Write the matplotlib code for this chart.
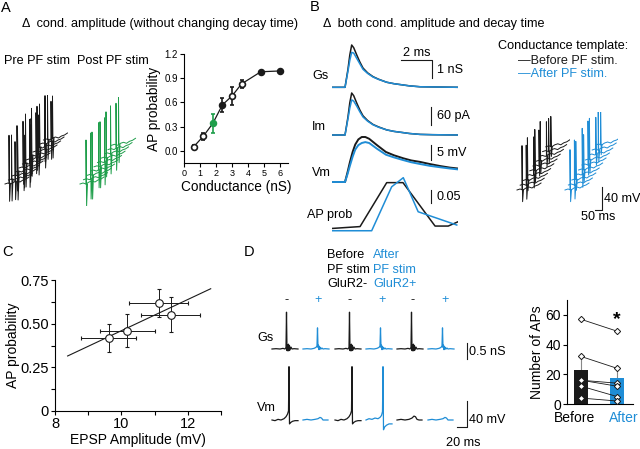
import numpy as np
import matplotlib
matplotlib.use('Agg')
import matplotlib.pyplot as plt

plt.rcParams['font.family'] = ['Liberation Sans', 'DejaVu Sans']

BLUE = '#1f8dd6'
GREEN = '#1e9e4a'
BLACK = '#1a1a1a'
FS = 9.1

#------------------------------------------------------------------------------
# A: AP probability vs conductance

a_cond = [0.6, 1.2, 1.8, 2.4, 3.0, 3.6, 4.8, 6.0]
a_prob = [0.05, 0.18, 0.34, 0.57, 0.68, 0.83, 0.98, 0.99]
a_err  = [0.02, 0.04, 0.12, 0.09, 0.11, 0.05, 0.0, 0.0]
a_kind = ['open', 'open', 'green', 'filled', 'open', 'open', 'filled', 'filled']

# waterfall stacks (px units): spike position along trace, spike up / down size
stack_base_t = [0, 3, 6, 9, 12, 15, 18, 21, 24]
stack_base_v = [0, 1, 0, 2, 3, 2, 4, 5, 7]

pre_spk_t  = [[4, 10], [3, 9], [5, 12], [2, 8], [4, 11], [3, 7],
              [5, 10], [2, 9], [4, 12], [3, 8], [5, 11], [4, 9]]
pre_spk_up = [[48, 40], [44, 46], [50, 38], [42, 47], [46, 41], [49, 44],
              [41, 45], [47, 39], [45, 43], [43, 48], [48, 40], [44, 42]]
pre_spk_dn = [18, 22, 15, 20, 17, 24, 16, 21, 19, 15, 18, 20]

post_spk_t  = [6, 7, 5, 8, 6, 7, 5, 6, 8, 7]
post_spk_up = [44, 46, 43, 47, 45, 44, 46, 48, 45, 47]
post_spk_dn = [22, 20, 24, 18, 21, 23, 19, 20, 22, 18]

#------------------------------------------------------------------------------
# B: averaged traces (ms)

b_t       = [0, 0.84, 1.03, 1.15, 1.27, 1.4, 1.6, 1.8, 2.0, 2.3, 2.65, 3.0,
             3.53, 4.0, 4.58, 5.0, 5.68, 6.5, 8.13]
gs_before = [0, 0, 1.0, 1.8, 2.35, 2.2, 1.79, 1.4, 1.07, 0.8, 0.59, 0.45,
             0.28, 0.2, 0.13, 0.08, 0.03, 0.02, 0]
gs_after  = [0, 0, 0.9, 1.5, 1.94, 1.9, 1.60, 1.3, 1.00, 0.77, 0.57, 0.44,
             0.28, 0.2, 0.13, 0.08, 0.03, 0.02, 0]
im_before = [0, 0, 60, 108, 140, 131, 106, 83, 64, 48, 35, 27,
             17, 12, 8, 5, 2, 1, 0]
im_after  = [0, 0, 54, 90, 117, 113, 96, 77, 60, 46, 34, 26,
             17, 12, 8, 5, 2, 1, 0]

vm_t      = [0, 0.84, 1.0, 1.16, 1.33, 1.5, 1.7, 1.92, 2.15, 2.4, 2.9, 3.48,
             4.0, 4.6, 5.1, 5.68, 6.3, 7.0, 7.6, 8.13]
vm_before = [0, 0, 3.2, 6.7, 10.0, 12.5, 14.2, 15.0, 15.0, 14.4, 12.3, 10.0,
             8.9, 7.9, 7.2, 6.7, 6.0, 5.3, 4.8, 4.5]
vm_after  = [0, 0, 2.6, 5.5, 8.4, 10.8, 12.3, 13.0, 13.3, 13.0, 11.1, 9.1,
             8.2, 7.3, 6.6, 6.0, 5.4, 4.9, 4.5, 4.2]

ap_t_before = [0.05, 1.81, 3.53, 4.58, 6.65, 7.5, 8.15]
ap_before   = [0.010, 0.017, 0.186, 0.186, 0.019, 0.019, 0.036]
ap_t_after  = [0.05, 2.56, 3.85, 4.6, 5.56, 8.05]
ap_after    = [0.001, 0.001, 0.17, 0.205, 0.074, 0.023]

tmpl_spk_t  = [5, 6, 4, 7, 5, 6, 4, 7, 6, 5]
tmpl_b_up   = [44, 40, 42, 38, 41, 36, 39, 34, 33, 30]
tmpl_a_up   = [40, 45, 38, 46, 35, 44, 41, 37, 43, 36]
tmpl_dn     = [12, 14, 11, 13, 12, 10, 13, 11, 12, 10]

#------------------------------------------------------------------------------
# C: AP probability vs EPSP amplitude

c_epsp = [9.62, 10.18, 11.12, 11.48]
c_prob = [0.42, 0.46, 0.62, 0.55]
c_xerr = [0.83, 0.83, 0.90, 0.90]
c_yerr = [0.08, 0.095, 0.08, 0.10]
c_fit_x = [8.38, 12.69]
c_fit_y = [0.315, 0.70]

#------------------------------------------------------------------------------
# D: example traces and number of APs

d_gs_t     = [0, 8, 16, 22, 26, 28, 29, 30, 31, 32, 33, 34, 35, 36, 38, 40, 44, 52]
d_gs_minus = [0, 0.01, 0, 0.02, 0, 0.05, 1.15, -0.05, 0.14, -0.06, 0.15, -0.05,
              0.1, -0.03, 0.06, 0, 0.01, 0]
d_gs_plus  = [0, 0.01, 0, 0.02, 0.05, 0.1, 0.66, 0.05, 0.12, -0.02, 0.08, 0,
              0.04, 0, 0.03, 0, 0.01, 0]

d_vm_spk_t     = [0, 6, 12, 18, 24, 28, 31, 33, 34, 35, 37, 41, 46, 52]
d_vm_minus_spk = [0, -1, 1, 0, 2, 5, 9, 14, 82, -6, -4, -2, -1, -1]
d_vm_plus_spk  = [0, 2, 1, 3, 2, 4, 7, 13, 82, -15, -11, -8, -6, -6]
d_vm_sub_t     = [0, 8, 16, 24, 30, 34, 37, 40, 44, 50]
d_vm_minus_sub = [0, 1, 0, 1, 3, 6, 5, 1, 0, 0]
d_vm_plus_sub  = [0, 1, 0, 1, 2, 4, 3, 0, 0, 0]

n_aps_before = [57, 32, 16, 16, 12, 4]
n_aps_after  = [49, 24, 14, 12, 5, 2]
n_aps_mean   = [23, 17.5]
n_aps_err    = [9, 6]

#------------------------------------------------------------------------------

W, H = 640, 449
fig = plt.figure(figsize=(W/100, H/100), dpi=100)


def px_axes(x0, x1, ytop, ybot, xlim, ylim, off=True):
    ax = fig.add_axes([x0/W, 1 - ybot/H, (x1 - x0)/W, (ybot - ytop)/H])
    ax.set_xlim(xlim)
    ax.set_ylim(ylim)
    if off:
        ax.axis('off')
    return ax


def ftext(x, y, s, **kw):
    kw.setdefault('fontsize', FS)
    kw.setdefault('va', 'center')
    fig.text(x/W, 1 - y/H, s, **kw)


def draw_stack(ax, dx, dy, spk_t, spk_up, spk_dn, color):
    bt = np.array(stack_base_t, float)
    bv = np.array(stack_base_v, float)
    for i in range(len(spk_t)):
        x0, y0 = 2 + i*dx, 22 + i*dy
        ax.plot(x0 + bt, y0 + bv, color=color, lw=0.7)
        ts = spk_t[i] if isinstance(spk_t[i], list) else [spk_t[i]]
        us = spk_up[i] if isinstance(spk_up[i], list) else [spk_up[i]]
        for t, up in zip(ts, us):
            yb = y0 + np.interp(t, bt, bv)
            ax.plot([x0 + t, x0 + t, x0 + t + 0.6, x0 + t + 1.5],
                    [yb, yb + up, yb - spk_dn[i], yb],
                    color=color, lw=0.7)


def spine_style(ax):
    for s in ['top', 'right']:
        ax.spines[s].set_visible(False)
    for s in ['left', 'bottom']:
        ax.spines[s].set_linewidth(0.8)
    ax.tick_params(direction='out', length=3, width=0.8, pad=1.5)


#------------------------------------------------------------------------------
# panel A

ftext(1, 8, 'A', fontsize=10.5)
ftext(22, 24, '\u0394  cond. amplitude (without changing decay time)')
ftext(4, 61, 'Pre PF stim')
ftext(77, 61, 'Post PF stim')

axs = px_axes(3, 68, 95, 206, (0, 65), (0, 111))
draw_stack(axs, 3.5, 4.0, pre_spk_t, pre_spk_up, pre_spk_dn, BLACK)
axs = px_axes(78, 143, 95, 206, (0, 65), (0, 111))
draw_stack(axs, 3.5, 4.3, post_spk_t, post_spk_up, post_spk_dn, GREEN)

axA = px_axes(184, 288, 54, 163, (0, 6.5), (-0.15, 1.2), off=False)
spine_style(axA)
axA.plot(a_cond, a_prob, color=BLACK, lw=0.9, zorder=1)
for x, y, e, k in zip(a_cond, a_prob, a_err, a_kind):
    col = GREEN if k == 'green' else BLACK
    face = {'open': 'white', 'filled': BLACK, 'green': GREEN}[k]
    axA.errorbar(x, y, yerr=e, fmt='o', ms=4.2, mfc=face, mec=col, mew=1.2,
                 ecolor=col, elinewidth=1.2, capsize=1.5, capthick=1.2, zorder=3)
axA.set_xticks(range(7))
axA.set_yticks([0, 0.3, 0.6, 0.9, 1.2])
axA.set_yticklabels(['0.0', '0.3', '0.6', '0.9', '1.2'])
axA.tick_params(axis='x', labelsize=6.5)
axA.tick_params(axis='y', labelsize=7)
axA.set_ylabel('AP probability', fontsize=9.8, labelpad=2)
axA.set_xlabel('Conductance (nS)', fontsize=9.8, labelpad=1)

#------------------------------------------------------------------------------
# panel B

ftext(310, 7, 'B', fontsize=10.5)
ftext(323, 24, '\u0394  both cond. amplitude and decay time')
ftext(312, 76, 'Gs')
ftext(312, 127, 'Im')
ftext(312, 173, 'Vm')
ftext(307, 215, 'AP prob')

tl = (0, 8.13)
ax = px_axes(332, 458, 38.7, 92.7, tl, (-0.3, 2.7))
ax.plot(b_t, gs_before, color=BLACK, lw=1.1)
ax.plot(b_t, gs_after, color=BLUE, lw=1.1)
ax.plot([4.45, 6.45, 6.45], [1.52, 1.52, 0.52], color=BLACK, lw=0.8, clip_on=False)
ax.text(5.45, 1.6, '2 ms', ha='center', va='bottom', fontsize=FS)
ax.text(6.75, 0.95, '1 nS', ha='left', va='center', fontsize=FS)

ax = px_axes(332, 458, 87, 139.5, tl, (-15, 160))
ax.plot(b_t, im_before, color=BLACK, lw=1.1)
ax.plot(b_t, im_after, color=BLUE, lw=1.1)
ax.plot([6.39, 6.39], [93, 33], color=BLACK, lw=0.8, clip_on=False)
ax.text(6.75, 63, '60 pA', ha='left', va='center', fontsize=FS)

ax = px_axes(332, 458, 131, 188, tl, (-2, 17))
ax.plot(vm_t, vm_before, color=BLACK, lw=1.4)
ax.plot(vm_t, vm_after, color=BLUE, lw=1.4)
ax.plot([6.39, 6.39], [12.3, 7.3], color=BLACK, lw=0.8, clip_on=False)
ax.text(6.75, 9.8, '5 mV', ha='left', va='center', fontsize=FS)

ax = px_axes(332, 458, 173.8, 236.2, tl, (-0.02, 0.22))
ax.plot(ap_t_before, ap_before, color=BLACK, lw=1.1)
ax.plot(ap_t_after, ap_after, color=BLUE, lw=1.1)
ax.plot([6.39, 6.39], [0.157, 0.107], color=BLACK, lw=0.8, clip_on=False)
ax.text(6.75, 0.132, '0.05', ha='left', va='center', fontsize=FS)

ftext(498, 46, 'Conductance template:')
ftext(518, 61, '\u2014Before PF stim.', color=BLACK)
ftext(518, 74, '\u2014After PF stim.', color=BLUE)

axs = px_axes(515, 570, 112, 212, (0, 55), (0, 100))
draw_stack(axs, 3.2, 4.8, tmpl_spk_t, tmpl_b_up, tmpl_dn, BLACK)
axs = px_axes(563, 618, 112, 212, (0, 55), (0, 100))
draw_stack(axs, 3.4, 5.0, tmpl_spk_t, tmpl_a_up, tmpl_dn, BLUE)
axs.plot([32, 38.7, 38.7], [2, 2, 25], color=BLACK, lw=0.8, clip_on=False)
ftext(604, 199, '40 mV')
ftext(598, 217, '50 ms', ha='center')

#------------------------------------------------------------------------------
# panel C

ftext(2, 252, 'C', fontsize=10.5)
axC = px_axes(55, 221, 280, 411, (8, 13), (0, 0.75), off=False)
spine_style(axC)
axC.plot(c_fit_x, c_fit_y, color=BLACK, lw=0.8, zorder=1)
axC.errorbar(c_epsp, c_prob, xerr=c_xerr, yerr=c_yerr, fmt='o', ms=5.5,
             mfc='white', mec=BLACK, mew=0.8, ecolor=BLACK, elinewidth=0.7,
             capsize=1.5, capthick=0.7, zorder=3)
axC.set_xticks([8, 10, 12])
axC.set_xticks([9, 11, 13], minor=True)
axC.set_yticks([0, 0.25, 0.5, 0.75])
axC.set_yticklabels(['0', '0.25', '0.50', '0.75'])
axC.set_yticks([0.125, 0.375, 0.625], minor=True)
axC.tick_params(which='minor', direction='out', length=3, width=0.8)
axC.tick_params(labelsize=10.5)
axC.set_ylabel('AP probability', fontsize=10, labelpad=0)
axC.set_xlabel('EPSP Amplitude (mV)', fontsize=10, labelpad=1)

#------------------------------------------------------------------------------
# panel D

ftext(244, 252, 'D', fontsize=10.5)
ftext(327, 255, 'Before')
ftext(373, 255, 'After', color=BLUE)
ftext(327, 270, 'PF stim')
ftext(373, 270, 'PF stim', color=BLUE)
ftext(327, 284, 'GluR2-')
ftext(373, 284, 'GluR2+', color=BLUE)
ftext(257, 338, 'Gs')
ftext(257, 408, 'Vm')

starts = [4, 66, 130, 192, 254, 316]
signs = ['-', '+', '-', '+', '-', '+']
sign_x = [287, 318, 350, 382, 413, 445]
for sx, sg in zip(sign_x, signs):
    ftext(sx, 300, sg, ha='center', color=BLACK if sg == '-' else BLUE)

axg = px_axes(270, 470, 304.2, 358.6, (0, 400), (-0.3, 1.4))
for i, t0 in enumerate(starts):
    y = d_gs_minus if i % 2 == 0 else d_gs_plus
    axg.plot(np.array(d_gs_t) + t0, y, color=BLACK if i % 2 == 0 else BLUE, lw=0.9)
axg.plot([394, 394], [0.19, -0.31], color=BLACK, lw=0.8, clip_on=False)
ftext(469, 352, '0.5 nS')

vm_sets = [(d_vm_spk_t, d_vm_minus_spk), (d_vm_sub_t, d_vm_plus_sub),
           (d_vm_spk_t, d_vm_minus_spk), (d_vm_spk_t, d_vm_plus_spk),
           (d_vm_sub_t, d_vm_minus_sub), (d_vm_sub_t, d_vm_plus_sub)]
axv = px_axes(270, 470, 358.25, 433, (0, 400), (-20, 95))
for i, (t0, (tt, vv)) in enumerate(zip(starts, vm_sets)):
    axv.plot(np.array(tt) + t0, vv, color=BLACK if i % 2 == 0 else BLUE, lw=0.9)
axv.plot([374, 394, 394], [-10.8, -10.8, 29.2], color=BLACK, lw=0.8, clip_on=False)
ftext(469, 420, '40 mV')
ftext(463, 443, '20 ms', ha='center')

axD = px_axes(567, 633, 300, 404, (-0.39, 1.44), (0, 70), off=False)
spine_style(axD)
axD.bar([0, 1], n_aps_mean, width=0.39, color=[BLACK, BLUE], zorder=1)
axD.errorbar([0, 1], n_aps_mean, yerr=[[0, 0], n_aps_err], fmt='none',
             ecolor='#888888', elinewidth=0.8, capsize=0, zorder=0.5)
for b, a in zip(n_aps_before, n_aps_after):
    axD.plot([0, 1], [b, a], color=BLACK, lw=0.6, zorder=2)
axD.plot(np.zeros(len(n_aps_before)), n_aps_before, 'D', ms=3.2, mfc='white',
         mec=BLACK, mew=0.7, zorder=3, linestyle='none')
axD.plot(np.ones(len(n_aps_after)), n_aps_after, 'D', ms=3.2, mfc='white',
         mec=BLACK, mew=0.7, zorder=3, linestyle='none')
axD.text(1, 57, '*', ha='center', va='center', fontsize=14, fontweight='bold')
axD.set_xticks([0, 1])
axD.set_xticklabels([])
axD.tick_params(axis='x', length=0)
xt = axD.get_xaxis_transform()
axD.text(-0.17, -0.135, 'Before', transform=xt, ha='center', va='center',
         fontsize=10)
axD.text(1.19, -0.135, 'After', transform=xt, ha='center', va='center',
         fontsize=10, color=BLUE)
axD.set_yticks([0, 20, 40, 60])
axD.tick_params(axis='y', labelsize=10)
axD.set_ylabel('Number of APs', fontsize=10, labelpad=1)

fig.savefig('out.png', dpi=100)
